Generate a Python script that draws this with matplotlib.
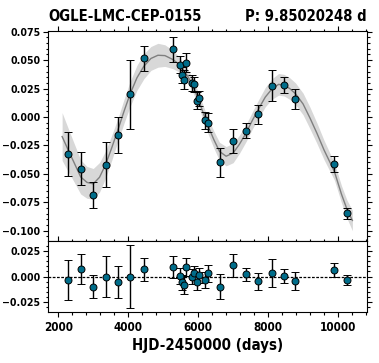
import matplotlib
matplotlib.use("Agg")
import matplotlib.pyplot as plt
from matplotlib import font_manager as fm
from matplotlib.ticker import MultipleLocator
import numpy as np

# ---- data ----
hjd = [2286, 2640, 3000, 3354, 3714, 4049, 4449, 5286, 5477, 5534, 5591, 5657,
       5820, 5886, 5954, 6011, 6183, 6286, 6611, 7000, 7371, 7726, 8106, 8457,
       8783, 9897, 10257]
mag = [-0.0324, -0.0456, -0.0685, -0.0418, -0.0160, 0.0198, 0.0518, 0.0594,
       0.0460, 0.0372, 0.0327, 0.0478, 0.0297, 0.0286, 0.0145, 0.0163, -0.0030,
       -0.0051, -0.0400, -0.0210, -0.0121, 0.0022, 0.0277, 0.0283, 0.0160,
       -0.0415, -0.0847]
err = [0.0195, 0.0145, 0.0115, 0.0200, 0.0158, 0.0305, 0.0110, 0.0108,
       0.0075, 0.0070, 0.0085, 0.0085, 0.0070, 0.0065, 0.0075, 0.0070, 0.0076,
       0.0085, 0.0125, 0.0108, 0.0065, 0.0080, 0.0135, 0.0070, 0.0090,
       0.0070, 0.0050]
resid = [-0.0032, 0.0071, -0.0097, 0.0000, -0.0055, 0.0000, 0.0071, 0.0090,
         0.0003, -0.0058, -0.0084, 0.0094, 0.0000, 0.0032, -0.0058, 0.0010,
         -0.0032, 0.0030, -0.0097, 0.0107, 0.0020, -0.0048, 0.0032, 0.0003,
         -0.0045, 0.0065, -0.0035]

# model curve and its uncertainty band
model_t = [2110, 2286, 2450, 2640, 2820, 3000, 3180, 3354, 3530, 3714, 3880,
           4049, 4250, 4449, 4650, 4850, 5050, 5286, 5477, 5657, 5820, 6011,
           6183, 6286, 6450, 6611, 6800, 7000, 7180, 7371, 7550, 7726, 7920,
           8106, 8300, 8457, 8620, 8783, 9000, 9200, 9400, 9600, 9897, 10100,
           10257, 10411]
model_y = [-0.0172, -0.0292, -0.0400, -0.0527, -0.0575, -0.0588, -0.0530,
           -0.0418, -0.0270, -0.0105, 0.0050, 0.0198, 0.0345, 0.0447, 0.0515,
           0.0543, 0.0540, 0.0504, 0.0457, 0.0380, 0.0297, 0.0153, 0.0002,
           -0.0081, -0.0200, -0.0303, -0.0345, -0.0317, -0.0240, -0.0141,
           -0.0030, 0.0070, 0.0175, 0.0245, 0.0287, 0.0280, 0.0250, 0.0205,
           0.0115, -0.0010, -0.0145, -0.0290, -0.0480, -0.0680, -0.0812, -0.0910]
model_sd = [0.021, 0.019, 0.017, 0.015, 0.014, 0.0135, 0.013, 0.012, 0.011,
            0.010, 0.0105, 0.011, 0.011, 0.011, 0.0105, 0.0105, 0.0095, 0.008,
            0.0065, 0.006, 0.006, 0.006, 0.0065, 0.007, 0.0075, 0.008, 0.0085,
            0.0085, 0.008, 0.0075, 0.0075, 0.008, 0.0085, 0.009, 0.0095, 0.0095,
            0.0095, 0.0095, 0.0095, 0.0095, 0.009, 0.0085, 0.0075, 0.0075,
            0.008, 0.009]

star_name = "OGLE-LMC-CEP-0155"
period_text = "P: 9.85020248 d"
xlabel = "HJD-2450000 (days)"
xticks = [2000, 4000, 6000, 8000, 10000]
yticks_main = [-0.100, -0.075, -0.050, -0.025, 0.000, 0.025, 0.050, 0.075]
yticks_res = [-0.025, 0.000, 0.025]

# choose a narrow bold sans if one is installed
names = {f.name for f in fm.fontManager.ttflist}
cond = [f for f in fm.fontManager.ttflist
        if f.name == 'DejaVu Sans' and 'ondensed' in str(f.stretch) + f.fname]
if cond:
    FAM, STRETCH, SCALE = 'DejaVu Sans', 'condensed', 1.0
elif 'Liberation Sans Narrow' in names:
    FAM, STRETCH, SCALE = 'Liberation Sans Narrow', 'normal', 1.08
else:
    FAM, STRETCH, SCALE = 'DejaVu Sans', 'normal', 0.9

plt.rcParams['font.family'] = [FAM, 'DejaVu Sans']
plt.rcParams['font.stretch'] = STRETCH
plt.rcParams['font.weight'] = 'bold'

W, H = 379, 363
fig = plt.figure(figsize=(W / 100, H / 100), dpi=100)
L, R = 48 / W, 367 / W
ax = fig.add_axes([L, 1 - 240.7 / H, R - L, (240.7 - 30.7) / H])
axr = fig.add_axes([L, 1 - 311.7 / H, R - L, (311.7 - 241) / H])
axr.set_zorder(2)

pt_color = '#006d8a'
xlim = (1706, 10829)

my = np.array(model_y)
ms = np.array(model_sd)
ax.fill_between(model_t, my - ms, my + ms, color='#d8d8d8', lw=0, zorder=1)
ax.plot(model_t, model_y, color='#7f7f7f', lw=1.0, zorder=2)
ax.errorbar(hjd, mag, yerr=err, fmt='o', ms=5, mfc=pt_color, mec='black',
            mew=0.7, ecolor='black', elinewidth=1.0, capsize=2.6, capthick=1.0,
            zorder=3)
ax.set_xlim(*xlim)
ax.set_ylim(-0.1088, 0.0759)

axr.axhline(0, color='black', lw=0.9, ls=(0, (2.2, 1.2)), zorder=1)
axr.errorbar(hjd, resid, yerr=err, fmt='o', ms=5, mfc=pt_color, mec='black',
             mew=0.7, ecolor='black', elinewidth=1.0, capsize=2.6, capthick=1.0,
             zorder=3)
axr.set_xlim(*xlim)
axr.set_ylim(-0.0341, 0.0344)

for a in (ax, axr):
    a.xaxis.set_major_locator(MultipleLocator(2000))
    a.xaxis.set_minor_locator(MultipleLocator(400))
    a.yaxis.set_minor_locator(MultipleLocator(0.005))
    a.tick_params(which='both', direction='out', top=True, right=True,
                  labelsize=7.6 * SCALE, width=0.8, pad=2)
    a.tick_params(which='major', length=3.5)
    a.tick_params(which='minor', length=1.8)
    for s in a.spines.values():
        s.set_linewidth(0.8)
axr.tick_params(axis='x', labelsize=8.4 * SCALE, pad=3)

ax.set_yticks(yticks_main)
ax.set_yticklabels([f"{v:.3f}".replace('-', '\u2212') for v in yticks_main])
ax.tick_params(labelbottom=False)
axr.set_yticks(yticks_res)
axr.set_yticklabels([f"{v:.3f}".replace('-', '\u2212') for v in yticks_res])
axr.set_xticks(xticks)
axr.set_xticklabels([str(v) for v in xticks])

ax.set_title(star_name, loc='left', fontsize=10.6 * SCALE, fontweight='bold', pad=7)
ax.set_title(period_text, loc='right', fontsize=10.6 * SCALE, fontweight='bold', pad=7)
axr.set_xlabel(xlabel, fontsize=10.8 * SCALE, fontweight='bold', labelpad=3)

fig.savefig("out.png", dpi=100)
